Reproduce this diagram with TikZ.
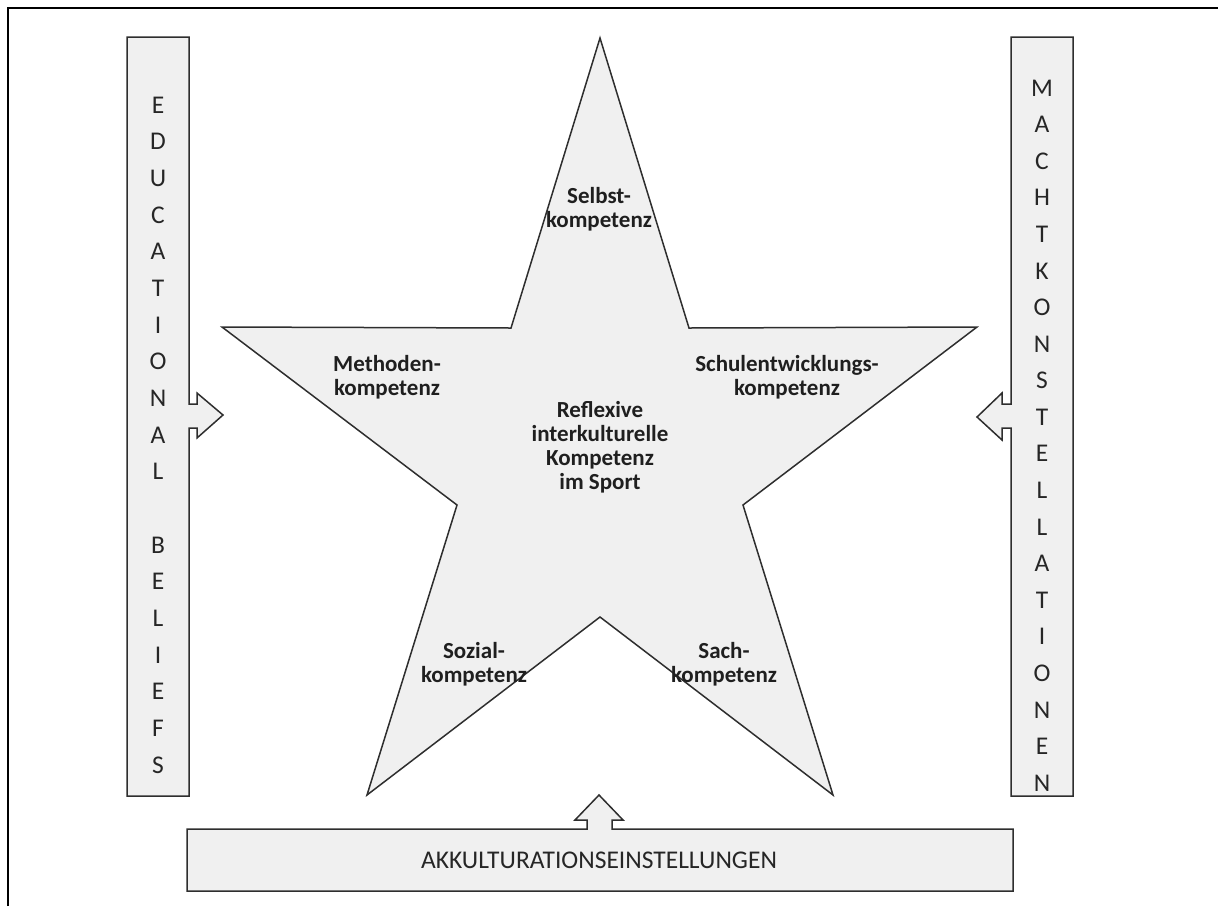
\documentclass[tikz,border=0pt]{standalone}
\usepackage{fontspec}
\setmainfont{Carlito}
\begin{document}
\begin{tikzpicture}[x=1pt,y=-1pt,
  shape line/.style={draw=black!82,line width=1.5pt,fill=black!6,line join=miter},
  lbl/.style={font=\fontsize{23}{24}\selectfont\bfseries,text=black!88,align=center,inner sep=0pt},
  letter/.style={font=\fontsize{25.5}{24}\selectfont,text=black!85,inner sep=0pt},
  frame line/.style={draw=black,line width=2.2pt}]
\useasboundingbox (0,0) rectangle (1218,906);
% frame lines along top and left
\draw[frame line] (8,906) -- (8,8) -- (1218,8);

% star
\coordinate (top) at (600,38);
\coordinate (ur) at (689,328);
\coordinate (right) at (977,327);
\coordinate (ir) at (743,505);
\coordinate (br) at (833,795);
\coordinate (ib) at (600,617);
\coordinate (bl) at (367,795);
\coordinate (il) at (457,505);
\coordinate (left) at (222,327);
\coordinate (ul) at (511,328);
\draw[shape line] (top) -- (ur) -- (right) -- (ir) -- (br) -- (ib) -- (bl) -- (il) -- (left) -- (ul) -- cycle;

% left bar with arrow
\draw[shape line] (127,37) -- (189,37) -- (189,404) -- (197,404) -- (197,393) -- (223,415)
  -- (197,438) -- (197,428) -- (189,428) -- (189,796) -- (127,796) -- cycle;
% right bar with arrow
\draw[shape line] (1011,37) -- (1073,37) -- (1073,796) -- (1011,796) -- (1011,428)
  -- (1002,428) -- (1002,440) -- (977,417) -- (1002,393) -- (1002,404) -- (1011,404) -- cycle;
% bottom box with arrow
\draw[shape line] (187,829) -- (587,829) -- (587,820) -- (575,820) -- (599,795) -- (623,820)
  -- (612,820) -- (612,829) -- (1013,829) -- (1013,891) -- (187,891) -- cycle;

% star labels
\node[lbl] (selbst) at (599,209) {Selbst-\\kompetenz};
\node[lbl] (methoden) at (387,377) {Methoden-\\kompetenz};
\node[lbl] (schule) at (787,377) {Schulentwicklungs-\\kompetenz};
\node[lbl] (center) at (600,447) {Reflexive\\interkulturelle\\Kompetenz\\im Sport};
\node[lbl] (sozial) at (474,664) {Sozial-\\kompetenz};
\node[lbl] (sach) at (724,664) {Sach-\\kompetenz};

% vertical lettering
\foreach \c [count=\i from 0] in {E,D,U,C,A,T,I,O,N,A,L, ,B,E,L,I,E,F,S}
  \node[letter] (eb\i) at (158,{105+\i*36.67}) {\c};
\foreach \c [count=\i from 0] in {M,A,C,H,T,K,O,N,S,T,E,L,L,A,T,I,O,N,E,N}
  \node[letter] (mk\i) at (1042,{88+\i*36.58}) {\c};

\node[letter] (akk) at (599,860) {AKKULTURATIONSEINSTELLUNGEN};
\end{tikzpicture}
\end{document}
